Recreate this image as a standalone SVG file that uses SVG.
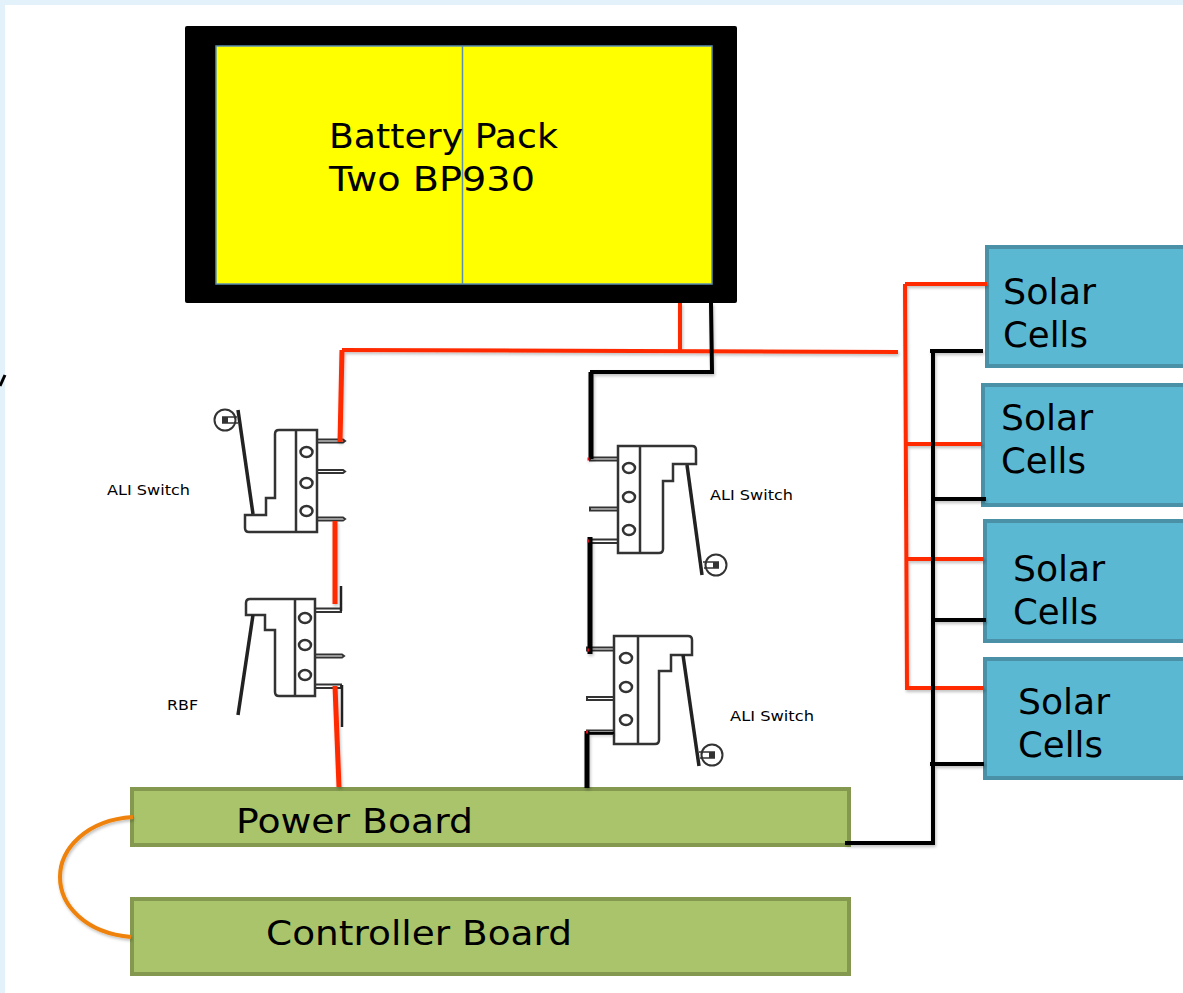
<svg xmlns="http://www.w3.org/2000/svg" width="1183" height="993" viewBox="0 0 1183 993">
<style>
text{font-family:"DejaVu Sans","Liberation Sans",sans-serif;fill:#000}
.big{font-size:33px}
.mid{font-size:35px}
.small{font-size:14px}
.solar{fill:#5bb8d3;stroke:#4a90a6;stroke-width:4}
.board{fill:#aac46c;stroke:#84994f;stroke-width:4}
.red{fill:none;stroke:#ff2a00;stroke-width:4}
.red5{fill:none;stroke:#ff2a00;stroke-width:5}
.blk{fill:none;stroke:#000;stroke-width:4}
.blk5{fill:none;stroke:#000;stroke-width:5}
.sw{fill:#fff;stroke:#333;stroke-width:2.500}
.hole{fill:#fff;stroke:#333;stroke-width:2.500}
.lev{fill:none;stroke:#222;stroke-width:3.500}
.pin{fill:#fff;stroke:#333;stroke-width:2}
.wheel{fill:#fff;stroke:#333;stroke-width:2}
</style>
<defs><filter id="sh" x="-10%" y="-10%" width="120%" height="120%"><feDropShadow dx="1" dy="2" stdDeviation="1.5" flood-color="#000" flood-opacity="0.25"/></filter></defs>
<rect width="1183" height="993" fill="#fff"/>
<path d="M0 0H1183V5H5V993H0Z" fill="#e3f1fb"/>
<path d="M0 386L5 375" stroke="#000" stroke-width="3" fill="none"/>
<g id="battery">
<rect x="185" y="26" width="552" height="277" rx="2" fill="#000"/>
<rect x="216" y="46" width="496" height="238" fill="#ffff00" stroke="#5b8fb0" stroke-width="1.500"/>
<path d="M462.500 46V284" stroke="#5b8fb0" stroke-width="1.500"/>
<text class="big" x="329" y="148" textLength="229" lengthAdjust="spacingAndGlyphs">Battery Pack</text>
<text class="big" x="329" y="191" textLength="206" lengthAdjust="spacingAndGlyphs">Two BP930</text>
</g>
<g id="solar1"><rect class="solar" x="987" y="247" width="210" height="119"/><text class="mid" x="1003" y="304" textLength="93" lengthAdjust="spacingAndGlyphs">Solar</text><text class="mid" x="1003" y="347" textLength="85" lengthAdjust="spacingAndGlyphs">Cells</text></g>
<g id="solar2"><rect class="solar" x="983" y="385" width="214" height="120"/><text class="mid" x="1001" y="430" textLength="92" lengthAdjust="spacingAndGlyphs">Solar</text><text class="mid" x="1001" y="473" textLength="85" lengthAdjust="spacingAndGlyphs">Cells</text></g>
<g id="solar3"><rect class="solar" x="985" y="521" width="212" height="120"/><text class="mid" x="1013" y="581" textLength="92" lengthAdjust="spacingAndGlyphs">Solar</text><text class="mid" x="1013" y="624" textLength="85" lengthAdjust="spacingAndGlyphs">Cells</text></g>
<g id="solar4"><rect class="solar" x="985" y="659" width="212" height="119"/><text class="mid" x="1018" y="714" textLength="92" lengthAdjust="spacingAndGlyphs">Solar</text><text class="mid" x="1018" y="757" textLength="85" lengthAdjust="spacingAndGlyphs">Cells</text></g>
<g id="power-board"><rect class="board" x="132" y="789" width="717" height="56"/><text class="big" x="236" y="833" textLength="237" lengthAdjust="spacingAndGlyphs">Power Board</text></g>
<g id="controller-board"><rect class="board" x="132" y="899" width="717" height="75"/><text class="big" x="266" y="945" textLength="306" lengthAdjust="spacingAndGlyphs">Controller Board</text></g>
<g id="switch1">
<path class="pin" d="M317 439.500H343L345 441L343 442.500H317ZM317 470H343L345 471.500L343 473H317ZM317 517.500H343L345 519L343 520.500H317Z"/>
<path class="sw" d="M317 430H279Q275 430 275 434V498H266V515H245V528Q245 532 249 532H317ZM296 430V532"/>
<ellipse class="hole" cx="306.500" cy="452" rx="6" ry="5"/><ellipse class="hole" cx="306.500" cy="483" rx="6" ry="5"/><ellipse class="hole" cx="306.500" cy="511" rx="6" ry="5"/>
<circle class="wheel" cx="225" cy="420" r="10.500"/><path d="M222 417H237M222 423H238" stroke="#333" stroke-width="1.500" fill="none"/><rect x="222" y="417" width="6" height="6" fill="#333"/>
<path class="lev" d="M253 514L238 410"/>
<text class="small" x="107" y="495" textLength="83" lengthAdjust="spacingAndGlyphs">ALI Switch</text>
</g>
<g id="switch-rbf">
<path class="pin" d="M315 608.500H341V612H315ZM315 654.500H342L344 656L342 657.500H315ZM315 684.500H341V688H315Z"/>
<path class="sw" d="M315 599H250Q246 599 246 603V615H265V630H275V692Q275 696 279 696H315ZM295 599V696"/>
<ellipse class="hole" cx="305" cy="618" rx="6" ry="5"/><ellipse class="hole" cx="305" cy="645" rx="6" ry="5"/><ellipse class="hole" cx="305" cy="675" rx="6" ry="5"/>
<path class="lev" d="M253 615L238 715"/>
<path d="M341 586V611M342 685V727" stroke="#222" stroke-width="2.500" fill="none"/>
<text class="small" x="167" y="710" textLength="31" lengthAdjust="spacingAndGlyphs">RBF</text>
</g>
<g id="switch3">
<path class="pin" d="M590 457.500H618V460.500H590ZM590 507.500H618V510.500H590ZM590 539.500H618V543H590Z"/>
<path class="sw" d="M618 446H692Q696 446 696 450V464H673V481H663V549Q663 553 659 553H618ZM640 446V553"/>
<ellipse class="hole" cx="629" cy="468" rx="6" ry="5"/><ellipse class="hole" cx="629" cy="497" rx="6" ry="5"/><ellipse class="hole" cx="629" cy="530" rx="6" ry="5"/>
<circle class="wheel" cx="716" cy="565" r="10.500"/><path d="M703 562H719M704 568H719" stroke="#333" stroke-width="1.500" fill="none"/><rect x="713" y="562" width="6" height="6" fill="#333"/>
<path class="lev" d="M687 465L702 575"/>
<text class="small" x="710" y="500" textLength="83" lengthAdjust="spacingAndGlyphs">ALI Switch</text>
</g>
<g id="switch4">
<path class="pin" d="M587 647.500H614V650.500H587ZM587 697H614V700H587ZM587 730.500H614V734H587Z"/>
<path class="sw" d="M614 636H688Q692 636 692 640V655H671V671H659V740Q659 744 655 744H614ZM638 636V744"/>
<ellipse class="hole" cx="626" cy="658" rx="6" ry="5"/><ellipse class="hole" cx="626" cy="687" rx="6" ry="5"/><ellipse class="hole" cx="626" cy="720" rx="6" ry="5"/>
<circle class="wheel" cx="712" cy="755" r="10.500"/><path d="M699 752H715M700 758H715" stroke="#333" stroke-width="1.500" fill="none"/><rect x="709" y="752" width="6" height="6" fill="#333"/>
<path class="lev" d="M683 655L699 766"/>
<text class="small" x="730" y="721" textLength="84" lengthAdjust="spacingAndGlyphs">ALI Switch</text>
</g>
<g id="connectors" filter="url(#sh)">
<path class="red" d="M680 303V350M342 350L898 352"/>
<path class="red5" d="M342 350L340 442M335 521V604M335 686L339 787"/>
<path class="red" d="M905 284L907 688H984M905 284H987M905 444H982M906 559H984"/>
<path class="blk" d="M711 303L712 372H590"/>
<path class="blk5" d="M591 372V459M590 537V654M587 731V788"/>
<path d="M587 733H614" stroke="#000" stroke-width="2" fill="none"/>
<path class="blk" d="M933 351V843H845M930 351H983M933 499H986M933 620H986M930 764H984"/>
<path d="M133 817C85 820 60 850 60 877C60 905 85 933 131 937" fill="none" stroke="#ee8208" stroke-width="4"/>
<path d="M587.500 459H589M587.500 541H589M587.500 650H589M586 732H588" stroke="#e0101a" stroke-width="3" fill="none"/>
</g>
</svg>
